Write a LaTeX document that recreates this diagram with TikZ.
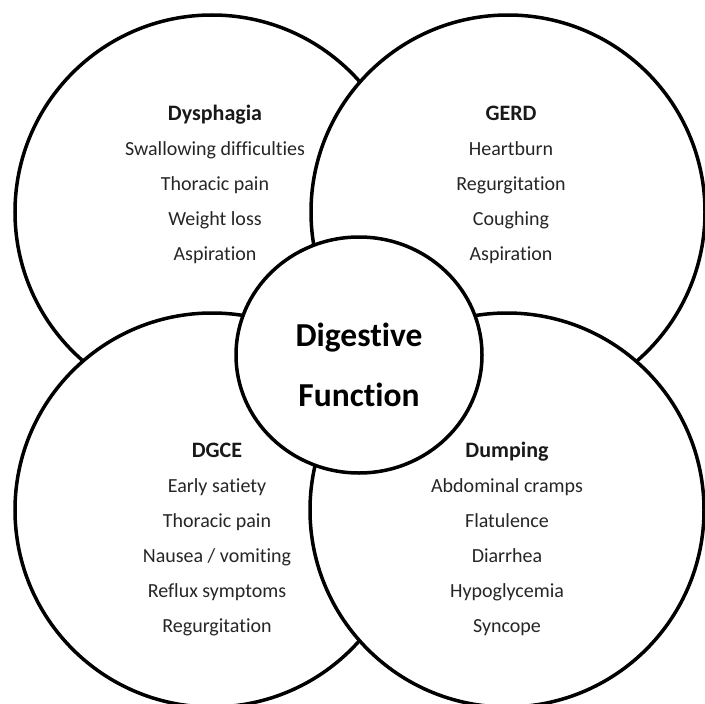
\documentclass[tikz,border=0pt]{standalone}
\usepackage{fontspec}
\setmainfont[Ligatures={NoCommon}]{Carlito}
\usetikzlibrary{shapes.geometric}
\begin{document}
\begin{tikzpicture}[x=1pt,y=-1pt]
    \tikzstyle{area} = [circle, draw=black, fill=white, line width=3.5pt, minimum size=394pt, inner sep=0pt]
    \tikzstyle{core} = [ellipse, draw=black, fill=white, line width=3.5pt, minimum width=246pt, minimum height=236pt, inner sep=0pt]
    \tikzstyle{head} = [font=\fontsize{22}{26}\selectfont\bfseries, text=black!90, text height=14pt, text depth=5pt, node distance=35pt]
    \tikzstyle{item} = [font=\fontsize{20}{24}\selectfont, text=black!85, text height=14pt, text depth=5pt, node distance=35pt]
    \tikzstyle{big} = [font=\fontsize{33.5}{40}\selectfont\bfseries, text height=24pt, text depth=7pt, node distance=60pt]

    \useasboundingbox (0,0) rectangle (705,704);

    \node (dysphagia) [area] at (212,212) {};
    \node (gerd) [area] at (508,212) {};
    \node (dgce) [area] at (212,510) {};
    \node (dumping) [area] at (507,510) {};
    \node (digestive) [core] at (359,355) {};

    \node (dys0) [head] at (215,116) {Dysphagia};
    \node (dys1) [item, below of=dys0] {Swallowing difficulties};
    \node (dys2) [item, below of=dys1] {Thoracic pain};
    \node (dys3) [item, below of=dys2] {Weight loss};
    \node (dys4) [item, below of=dys3] {Aspiration};

    \node (gerd0) [head] at (511,116) {GERD};
    \node (gerd1) [item, below of=gerd0] {Heartburn};
    \node (gerd2) [item, below of=gerd1] {Regurgitation};
    \node (gerd3) [item, below of=gerd2] {Coughing};
    \node (gerd4) [item, below of=gerd3] {Aspiration};

    \node (dgce0) [head] at (217,453) {DGCE};
    \node (dgce1) [item, below of=dgce0] {Early satiety};
    \node (dgce2) [item, below of=dgce1] {Thoracic pain};
    \node (dgce3) [item, below of=dgce2] {Nausea / vomiting};
    \node (dgce4) [item, below of=dgce3] {Reflux symptoms};
    \node (dgce5) [item, below of=dgce4] {Regurgitation};

    \node (dump0) [head] at (507,453) {Dumping};
    \node (dump1) [item, below of=dump0] {Abdominal cramps};
    \node (dump2) [item, below of=dump1] {Flatulence};
    \node (dump3) [item, below of=dump2] {Diarrhea};
    \node (dump4) [item, below of=dump3] {Hypoglycemia};
    \node (dump5) [item, below of=dump4] {Syncope};

    \node (core0) [big] at (359,338) {Digestive};
    \node (core1) [big, below of=core0] {Function};
\end{tikzpicture}
\end{document}
